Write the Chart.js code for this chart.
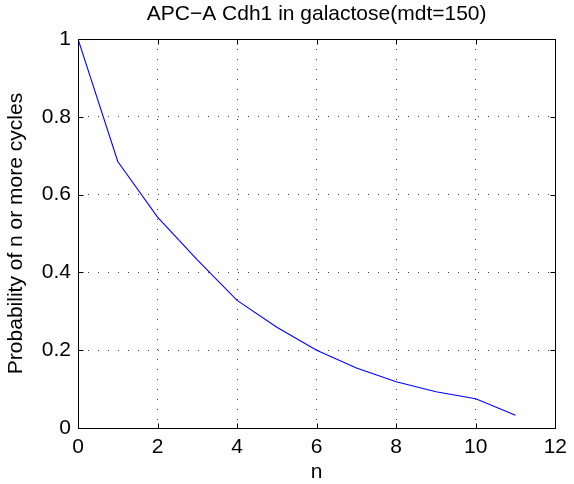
<!DOCTYPE html>
<html>
<head>
<meta charset="utf-8">
<script src="https://cdn.jsdelivr.net/npm/chart.js@4/dist/chart.umd.min.js"></script>
<style>
  html, body { margin: 0; padding: 0; background: #fff; }
  canvas { display: block; }
</style>
</head>
<body>
<canvas id="c" width="574" height="484"></canvas>
<script>
// ---- data ----
const nValues = [0, 1, 2, 3, 4, 5, 6, 7, 8, 9, 10, 11];
const probValues = [1.0, 0.685, 0.542, 0.432, 0.328, 0.259, 0.200, 0.154, 0.119, 0.093, 0.075, 0.033];
const xTickValues = [0, 2, 4, 6, 8, 10, 12];
const yTickValues = [0, 0.2, 0.4, 0.6, 0.8, 1];
const yTickLabels = ['0', '0.2', '0.4', '0.6', '0.8', '1'];
const titleText = 'APC\u2212A Cdh1 in galactose(mdt=150)';
const xLabel = 'n';
const yLabel = 'Probability of n or more cycles';

const FONT = 'Liberation Sans, Arial, Helvetica, sans-serif';
const FS = 21;

const framePlugin = {
  id: 'frame',
  afterDraw(chart) {
    const ctx = chart.ctx;
    const a = chart.chartArea;
    const xs = chart.scales.x, ys = chart.scales.y;
    const L = Math.round(a.left) + 0.5, R = Math.round(a.right) + 0.5;
    const T = Math.round(a.top) + 0.5, B = Math.round(a.bottom) + 0.5;
    const tl = 5;
    ctx.save();
    ctx.strokeStyle = '#000';
    ctx.lineWidth = 1;
    ctx.setLineDash([]);
    ctx.beginPath();
    ctx.rect(L, T, R - L, B - T);
    xTickValues.forEach(v => {
      const px = Math.round(xs.getPixelForValue(v)) + 0.5;
      ctx.moveTo(px, B); ctx.lineTo(px, B - tl);
      ctx.moveTo(px, T); ctx.lineTo(px, T + tl);
    });
    yTickValues.forEach(v => {
      const py = Math.round(ys.getPixelForValue(v)) + 0.5;
      ctx.moveTo(L, py); ctx.lineTo(L + tl, py);
      ctx.moveTo(R, py); ctx.lineTo(R - tl, py);
    });
    ctx.stroke();
    ctx.restore();
  }
};

new Chart(document.getElementById('c'), {
  type: 'line',
  data: {
    datasets: [{
      data: nValues.map((n, i) => ({ x: n, y: probValues[i] })),
      borderColor: '#0000ff',
      borderWidth: 1.1,
      pointRadius: 0,
      fill: false,
      tension: 0
    }]
  },
  options: {
    responsive: false,
    animation: false,
    devicePixelRatio: 1,
    layout: { padding: { left: 0, right: 13, top: 0, bottom: 0 } },
    plugins: {
      legend: { display: false },
      tooltip: { enabled: false },
      title: {
        display: true,
        text: titleText,
        fullSize: false,
        color: '#000',
        font: { family: FONT, size: FS, weight: 'normal', lineHeight: 1.0 },
        padding: { top: 4, bottom: 14 }
      }
    },
    scales: {
      x: {
        type: 'linear',
        min: 0, max: 12,
        afterBuildTicks: s => { s.ticks = xTickValues.map(v => ({ value: v })); },
        afterFit: s => { s.height = 56; },
        ticks: {
          color: '#000',
          font: { family: FONT, size: FS },
          padding: 7,
          maxRotation: 0,
          autoSkip: false,
          callback: v => String(v)
        },
        grid: { color: 'rgba(0,0,0,0.75)', lineWidth: 1, drawTicks: false },
        border: { display: false, dash: [1, 9] },
        title: {
          display: true, text: xLabel, color: '#000',
          font: { family: FONT, size: FS, lineHeight: 1.0 },
          padding: { top: 0, bottom: 1 }
        }
      },
      y: {
        type: 'linear',
        min: 0, max: 1,
        afterBuildTicks: s => { s.ticks = yTickValues.map(v => ({ value: v })); },
        afterFit: s => { s.width = 78; },
        ticks: {
          color: '#000',
          font: { family: FONT, size: FS },
          padding: 7,
          autoSkip: false,
          callback: (v) => { const i = yTickValues.indexOf(v); return i >= 0 ? yTickLabels[i] : ''; }
        },
        grid: { color: 'rgba(0,0,0,0.75)', lineWidth: 1, drawTicks: false },
        border: { display: false, dash: [1, 9] },
        title: {
          display: true, text: yLabel, color: '#000',
          font: { family: FONT, size: FS, lineHeight: 1.2 },
          padding: { top: 4, bottom: 0 }
        }
      }
    }
  },
  plugins: [framePlugin]
});
</script>
</body>
</html>
